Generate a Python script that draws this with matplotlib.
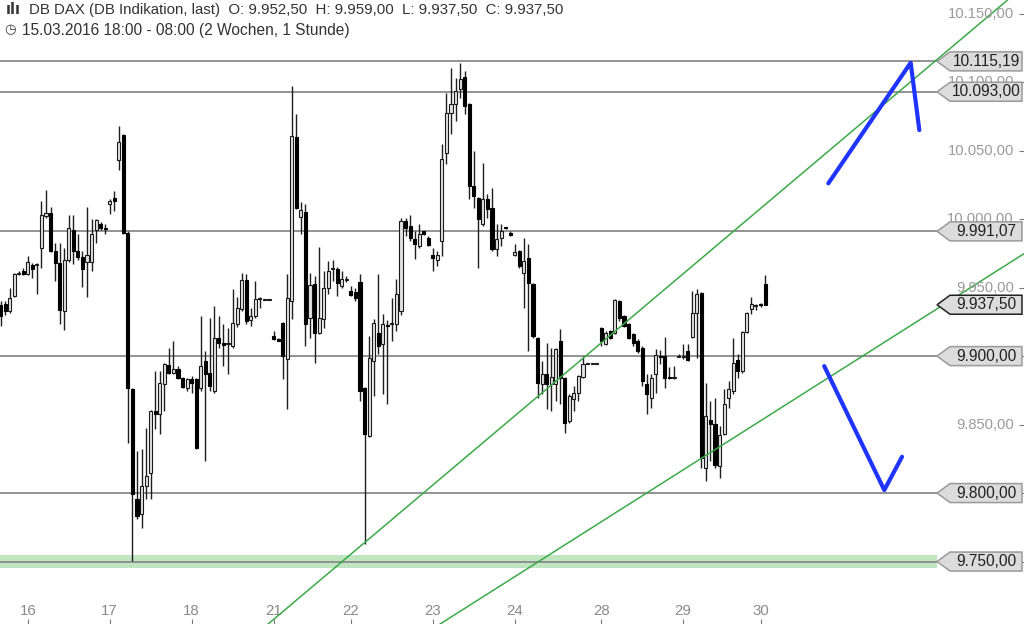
import numpy as np
import matplotlib
matplotlib.use("Agg")
import matplotlib.pyplot as plt
from matplotlib.patches import Polygon

plt.rcParams["font.family"] = ["Liberation Sans", "DejaVu Sans"]

# hourly candles, 15.03.2016 18:00 .. 30.03.2016 08:00
O = [9937, 9938.3, 9933.2, 9944.2, 9960, 9962.4, 9960.2, 9966.8, 9966.5, 9979.2,
     10002.6, 10004.7, 9977, 9968.2, 9933.2, 9970.4, 9992.3, 9977, 9972.6, 9969,
     9969, 9992.3, 9996.7, 9993.5, 10011.3, 10015.7, 10043.4, 10061.7, 9990.1, 9876.3,
     9796, 9785, 9805.5, 9815, 9860.2, 9858, 9879.9, 9893.8, 9888, 9890.9,
     9884.3, 9877, 9883.6, 9883.6, 9877, 9896.7, 9888, 9874.8, 9913.5, 9909.8,
     9908.5, 9907.6, 9923.7, 9934.7, 9955.8, 9926.6, 9929.5, 9942, 9941.2, 9941.2,
     9915, 9912.8, 9924.4, 9898.2, 9940.5, 10060.2, 10001.8, 10005.5, 9928.1, 9952.9,
     9917.1, 9927.4, 9950, 9963.5, 9963.9, 9951.5, 9955.5, 9947.8, 9947, 9954.4,
     9877, 9842, 9896.7, 9917.1, 9909.1, 9922.5, 9923.2, 9923.7, 9933.2, 9998.9,
     9995.3, 9985.8, 9980.7, 9991, 9986.5, 9974.1, 9970.4, 9984.3, 10048.5, 10077.7,
     10084.3, 10095.3, 10104, 10084.3, 10024.4, 10015.7, 9996.7, 10015, 10008.4, 9978.5,
     9986.5, 9994, 9990, 9974.1, 9977, 9961, 9971.9, 9952.9, 9913.5, 9879.9,
     9887.2, 9879.9, 9879.9, 9911.3, 9884.3, 9852.9, 9869, 9873.3, 9885, 9894.5,
     9894.5, 9894.5, 9920.8, 9909.1, 9918.6, 9917.1, 9940.5, 9929.5, 9923.7, 9916.4,
     9911.3, 9906.2, 9879.9, 9869.7, 9887.2, 9900.4, 9900.4, 9884.8, 9884.3, 9899.6,
     9899.6, 9904, 9914.2, 9931.7, 9946.3, 9818.6, 9853.6, 9850.7, 9820.1, 9843.4,
     9869.7, 9874.8, 9897.4, 9889.4, 9917.9, 9934.7, 9936.9, 9937.5, 9952.5]
H = [9940.5, 9940, 9950, 9961, 9962, 9964, 9973.4, 9968, 9968, 10013.5,
     10021.5, 10009, 9982.8, 9982.8, 9979.2, 10003.3, 10003.3, 9989.4, 9977, 10009,
     10000.4, 10000.4, 9998, 9996.7, 10015, 10020.8, 10068.3, 10062.4, 9991, 9877,
     9831, 9832.5, 9847.8, 9861, 9889.4, 9889.4, 9895, 9906.2, 9911.3, 9893,
     9885, 9884.3, 9885.8, 9884, 9929.5, 9904, 9928.1, 9936.9, 9929.5, 9923.7,
     9920.8, 9949.3, 9943.4, 9961, 9960.2, 9935.4, 9955.1, 9943.4, 9941.2, 9941.2,
     9918.6, 9913, 9925, 9960.2, 10097.5, 10077, 10012.8, 10011.3, 9961, 9958.8,
     9979.9, 9962.4, 9969.7, 9970.4, 9965.3, 9962.4, 9958.8, 9951.5, 9950, 9960.2,
     9877.5, 9915, 9927.4, 9960.2, 9931, 9926, 9942.7, 9956.6, 10001, 10001,
     10003.3, 9991.6, 9996.7, 9991.6, 9988, 9979.2, 9977, 10055.1, 10092.3, 10110.6,
     10103.3, 10114.2, 10108.4, 10085, 10050, 10016.5, 10041.2, 10018.6, 10023, 9996.7,
     9996.7, 9994.5, 9991, 9982.1, 9977.5, 9986.5, 9982.1, 9953.5, 9914, 9896.7,
     9909.8, 9906.2, 9906, 9920, 9885, 9872, 9878.5, 9886.5, 9900.4, 9894.5,
     9894.5, 9894.5, 9921.5, 9918.6, 9919.3, 9942, 9941, 9930.2, 9924.4, 9917.1,
     9912.8, 9907.6, 9887.2, 9887.2, 9905.5, 9904.7, 9914.2, 9892.3, 9893, 9901.8,
     9909.1, 9909.1, 9947.8, 9949.3, 9947, 9880.6, 9867.5, 9869.7, 9849.3, 9876.3,
     9882.1, 9913.5, 9901.8, 9918.5, 9932.4, 9943.4, 9938.3, 9938.5, 9959]
L = [9922.3, 9930, 9931.7, 9943, 9959, 9959, 9959, 9957.3, 9945.6, 9964.6,
     10001, 9976, 9955.1, 9923.7, 9919.3, 9969, 9967.5, 9970.4, 9950.7, 9943.4,
     9962.4, 9982.8, 9992, 9989.4, 10004, 10006.2, 10036.1, 9989, 9836.8, 9750.7,
     9781.4, 9774.8, 9796, 9796, 9847.1, 9843.4, 9860.2, 9887, 9887, 9883,
     9877, 9874.8, 9873.3, 9832, 9874.8, 9823.7, 9874.8, 9873.3, 9906.2, 9893,
     9887.2, 9906.2, 9921.5, 9933.2, 9923.7, 9922.3, 9928.1, 9935.4, 9941.2, 9941.2,
     9912, 9911, 9883.6, 9861.7, 9927.4, 10007.6, 9989.4, 9907.6, 9913.5, 9895.2,
     9916, 9920.8, 9945.6, 9955.1, 9944.2, 9950, 9954.4, 9944.2, 9940.5, 9867.5,
     9763.1, 9841, 9871.2, 9901.8, 9872.6, 9865.3, 9911.3, 9918.6, 9930, 9988,
     9984.3, 9971.2, 9979.2, 9988.5, 9980.7, 9962.4, 9966, 9973.4, 10040.5, 10062.4,
     10071.9, 10088.7, 10077, 10015, 10008.4, 9964.6, 9995.3, 10001.1, 9977, 9973.4,
     9980.7, 9993, 9987.5, 9973.4, 9964.6, 9935.4, 9904, 9913.5, 9869.7, 9872.6,
     9861.7, 9860.2, 9867.5, 9865.3, 9844.1, 9851.4, 9860.2, 9867.5, 9884.3, 9894.5,
     9894.5, 9894.5, 9907.6, 9908.4, 9912.8, 9916.4, 9925.9, 9921.5, 9912.8, 9907.6,
     9902.5, 9878.5, 9858, 9862.4, 9873.3, 9894.5, 9877, 9883.6, 9883, 9899,
     9898.2, 9896.7, 9913.5, 9898.9, 9818.6, 9809.1, 9823.7, 9818.6, 9811.3, 9842.7,
     9862.4, 9872.6, 9884.3, 9888, 9917, 9931, 9934, 9936, 9937.5]
C = [9929.5, 9933.2, 9942.7, 9960.2, 9961, 9960.2, 9969, 9963.9, 9967, 10003.3,
     10004.7, 9977, 9968.2, 9933.9, 9970.4, 9993.8, 9977, 9972.6, 9963.9, 9974.1,
     9989.4, 9999.6, 9993.8, 9992.5, 10013.5, 10013.5, 10056.6, 9990.1, 9877, 9799.6,
     9783.6, 9805.5, 9812.8, 9860.2, 9858, 9880.6, 9894.5, 9888, 9890.9, 9884.3,
     9877.7, 9883.6, 9880.6, 9833.2, 9893, 9887.2, 9878.5, 9913.5, 9909.8, 9908,
     9909.3, 9924.4, 9935.4, 9955.8, 9925.9, 9929.5, 9942, 9942.7, 9941.2, 9941.2,
     9912.8, 9911.3, 9900.4, 9942.7, 10061, 10008.4, 10006.9, 9923.7, 9952.2, 9917.1,
     9928.1, 9950, 9962.4, 9964, 9953.6, 9956.6, 9956.3, 9944.9, 9942.7, 9874.8,
     9843.4, 9898.9, 9924.4, 9907.6, 9923.7, 9922.3, 9924, 9945.6, 9998.9, 9993.8,
     9986.5, 9982.1, 9989.4, 9989.4, 9981.4, 9971.9, 9974.1, 10044.2, 10077.7, 10084.3,
     10093.8, 10102.6, 10082.9, 10024.4, 10017.2, 10000.4, 10015, 10007.7, 9978.5, 9985.8,
     9991.6, 9993.8, 9988.7, 9976.3, 9966, 9969.7, 9953.6, 9915, 9880.6, 9887.2,
     9879.9, 9885, 9905.5, 9884.3, 9851.4, 9871.2, 9873.3, 9885.8, 9894.5, 9894.5,
     9894.5, 9894.5, 9911.3, 9917.1, 9913.5, 9941.2, 9928.1, 9922.3, 9913.5, 9909.8,
     9904, 9882.1, 9872.6, 9884.3, 9901.1, 9899.6, 9884.3, 9884.3, 9884.5, 9900.4,
     9899.6, 9897.4, 9931.7, 9945.6, 9825.9, 9856.6, 9850.7, 9820.8, 9842.7, 9865.3,
     9876.3, 9895.2, 9889.4, 9917.9, 9931.7, 9938.3, 9937.2, 9937, 9937.5]

day_labels = ["16", "17", "18", "21", "22", "23", "24", "28", "29", "30"]
day_start = [6, 24, 42, 60, 77, 95, 113, 132, 150, 167]

price_ticks = [9750, 9800, 9850, 9900, 9950, 10000, 10050, 10100, 10150]
levels = [10115.19, 10093.00, 9991.07, 9900.00, 9800.00, 9750.00]
last_price = 9937.50
support_zone = (9745.3, 9754.7)

# hand drawn lines (candle index, price)
trend_a = [(72.4, 9742.5), (208.7, 10124.7)]
trend_b = [(96.6, 9704.4), (206.5, 9936.0)]
blue_up_x, blue_up_y = [181.9, 200.0, 201.9], [10026.1, 10114.2, 10065.0]
blue_dn_x, blue_dn_y = [181.0, 194.2, 198.1], [9892.7, 9802.2, 9826.5]


def de(v):
    return f"{v:,.2f}".replace(",", "X").replace(".", ",").replace("X", ".")


O, H, L, C = map(np.array, (O, H, L, C))
x = np.arange(len(O))
up = C >= O

fig = plt.figure(figsize=(10.24, 6.24), dpi=100)
ax = fig.add_axes([0, 0, 1, 1])
ax.set_xlim(-0.11, 224.9)
ax.set_ylim(9704.4, 10160.0)
for s in ax.spines.values():
    s.set_visible(False)

GRAY, TIP, SHOULDER, RIGHT = "#8a8a8a", 937 / 1024, 950 / 1024, 1022 / 1024
hh = 9.5 / 1.3696  # half tag height in price units

# levels + support zone
ax.axhspan(*support_zone, xmax=TIP, color="#bfe6c1", lw=0, zorder=0.5)
for lv in levels:
    ax.axhline(lv, xmin=0, xmax=TIP, color=GRAY, lw=1.3, zorder=1)

# candles
ax.vlines(x, L, H, color="#1e1e1e", lw=1.0, zorder=2)
bot = np.minimum(O, C)
hgt = np.maximum(np.abs(C - O), 0.7)
ax.bar(x[up], hgt[up], 0.68, bot[up], facecolor="#e2e2e2", edgecolor="#1a1a1a", lw=0.8, zorder=3)
ax.bar(x[~up], hgt[~up], 0.68, bot[~up], facecolor="black", edgecolor="black", lw=0.8, zorder=3)

# trend lines and forecast strokes
for p1, p2 in (trend_a, trend_b):
    ax.axline(p1, p2, color="#3caa48", lw=1.1, zorder=4)
for bx, by in ((blue_up_x, blue_up_y), (blue_dn_x, blue_dn_y)):
    ax.plot(bx, by, color="#1f35ff", lw=3, solid_capstyle="round", solid_joinstyle="round", zorder=6)

# right price scale (labels fully covered by a tag are not shown)
tr = ax.get_yaxis_transform()
for t in price_ticks:
    if any(abs(t - lv) < 1 for lv in levels):
        continue
    ax.text(1014 / 1024, t, de(t), transform=tr, ha="right", va="center", fontsize=10.6, color="#9a9a9a", zorder=4)
ax.yaxis.tick_right()
ax.set_yticks(price_ticks)
ax.tick_params(axis="y", direction="in", length=3.6, color="#777777", labelright=False, labelleft=False)

# price tags
for lv in levels + [last_price]:
    pts = [(TIP, lv), (SHOULDER, lv + hh), (RIGHT, lv + hh), (RIGHT, lv - hh), (SHOULDER, lv - hh)]
    ec = "#222222" if lv == last_price else "#9a9a9a"
    ax.add_patch(Polygon(pts, closed=True, transform=tr, facecolor="#dcdcdc", edgecolor=ec, lw=1.1, zorder=7))
    ax.text(986 / 1024, lv, de(lv), transform=tr, ha="center", va="center", fontsize=11.2, color="#222222", zorder=8)

# date axis
ax.set_xticks(day_start)
ax.tick_params(axis="x", direction="in", length=3.6, color="#777777", labelbottom=False)
trx = ax.get_xaxis_transform()
for d, lab in zip(day_start, day_labels):
    ax.text(d, 13 / 624, lab, transform=trx, ha="center", va="center", fontsize=10.8, color="#8a8a8a")

# header
ax.text(6 / 1024, 1 - 10 / 624, "ılı", transform=ax.transAxes, ha="left", va="center", fontsize=10.5, color="#333333",
        family=["DejaVu Sans"], fontweight="bold")
ax.text(29 / 1024, 1 - 10 / 624, "DB DAX (DB Indikation, last)  O: 9.952,50  H: 9.959,00  L: 9.937,50  C: 9.937,50",
        transform=ax.transAxes, ha="left", va="center", fontsize=10.8, color="#333333")
ax.text(4 / 1024, 1 - 30 / 624, "◷", transform=ax.transAxes, ha="left", va="center", fontsize=9.5, color="#333333",
        family=["DejaVu Sans"])
ax.text(22 / 1024, 1 - 30 / 624, "15.03.2016 18:00 - 08:00 (2 Wochen, 1 Stunde)",
        transform=ax.transAxes, ha="left", va="center", fontsize=11.2, color="#333333")

fig.savefig("out.png", dpi=100, facecolor="white")
